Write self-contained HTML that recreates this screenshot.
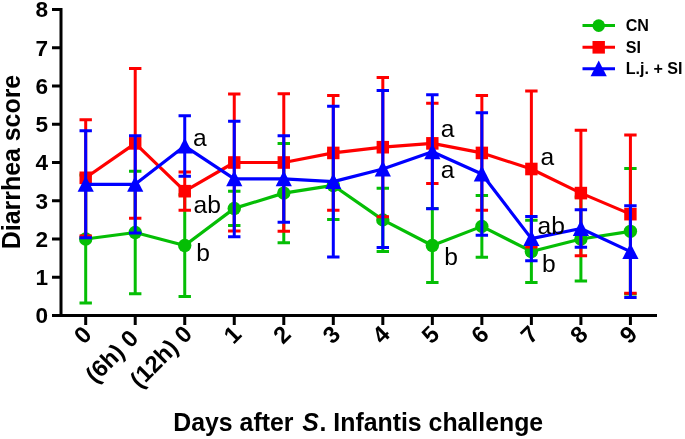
<!DOCTYPE html>
<html><head><meta charset="utf-8"><title>Diarrhea score</title>
<style>html,body{margin:0;padding:0;background:#fff}body{width:685px;height:439px;position:relative;overflow:hidden}</style></head>
<body>
<svg width="685" height="439" viewBox="0 0 685 439" style="display:block;position:absolute;left:0;top:0;will-change:transform">
<rect width="685" height="439" fill="#fff"/>
<path d="M85.70 175.12V302.88M79.50 175.12H91.90M79.50 302.88H91.90" stroke="#05be05" stroke-width="3.0" fill="none"/>
<path d="M135.22 171.30V293.70M129.02 171.30H141.42M129.02 293.70H141.42" stroke="#05be05" stroke-width="3.0" fill="none"/>
<path d="M184.74 194.63V296.38M178.54 194.63H190.94M178.54 296.38H190.94" stroke="#05be05" stroke-width="3.0" fill="none"/>
<path d="M234.26 191.19V225.61M228.06 191.19H240.46M228.06 225.61H240.46" stroke="#05be05" stroke-width="3.0" fill="none"/>
<path d="M283.78 143.38V242.82M277.58 143.38H289.98M277.58 242.82H289.98" stroke="#05be05" stroke-width="3.0" fill="none"/>
<path d="M333.30 151.41V219.49M327.10 151.41H339.50M327.10 219.49H339.50" stroke="#05be05" stroke-width="3.0" fill="none"/>
<path d="M382.82 188.13V251.62M376.62 188.13H389.02M376.62 251.62H389.02" stroke="#05be05" stroke-width="3.0" fill="none"/>
<path d="M432.34 208.40V282.61M426.14 208.40H438.54M426.14 282.61H438.54" stroke="#05be05" stroke-width="3.0" fill="none"/>
<path d="M481.86 195.39V257.36M475.66 195.39H488.06M475.66 257.36H488.06" stroke="#05be05" stroke-width="3.0" fill="none"/>
<path d="M531.38 220.26V282.61M525.18 220.26H537.58M525.18 282.61H537.58" stroke="#05be05" stroke-width="3.0" fill="none"/>
<path d="M580.90 196.93V281.07M574.70 196.93H587.10M574.70 281.07H587.10" stroke="#05be05" stroke-width="3.0" fill="none"/>
<path d="M630.42 168.62V294.08M624.22 168.62H636.62M624.22 294.08H636.62" stroke="#05be05" stroke-width="3.0" fill="none"/>
<polyline points="85.70,239.00 135.22,232.50 184.74,245.50 234.26,208.40 283.78,193.10 333.30,185.45 382.82,219.88 432.34,245.50 481.86,226.38 531.38,251.43 580.90,239.00 630.42,231.35" fill="none" stroke="#05be05" stroke-width="3.2" stroke-linejoin="round"/>
<circle cx="85.70" cy="239.00" r="6.7" fill="#05be05"/>
<circle cx="135.22" cy="232.50" r="6.7" fill="#05be05"/>
<circle cx="184.74" cy="245.50" r="6.7" fill="#05be05"/>
<circle cx="234.26" cy="208.40" r="6.7" fill="#05be05"/>
<circle cx="283.78" cy="193.10" r="6.7" fill="#05be05"/>
<circle cx="333.30" cy="185.45" r="6.7" fill="#05be05"/>
<circle cx="382.82" cy="219.88" r="6.7" fill="#05be05"/>
<circle cx="432.34" cy="245.50" r="6.7" fill="#05be05"/>
<circle cx="481.86" cy="226.38" r="6.7" fill="#05be05"/>
<circle cx="531.38" cy="251.43" r="6.7" fill="#05be05"/>
<circle cx="580.90" cy="239.00" r="6.7" fill="#05be05"/>
<circle cx="630.42" cy="231.35" r="6.7" fill="#05be05"/>
<path d="M85.70 119.66V235.94M79.50 119.66H91.90M79.50 235.94H91.90" stroke="#ff0000" stroke-width="3.0" fill="none"/>
<path d="M135.22 68.41V218.34M129.02 68.41H141.42M129.02 218.34H141.42" stroke="#ff0000" stroke-width="3.0" fill="none"/>
<path d="M184.74 172.06V210.31M178.54 172.06H190.94M178.54 210.31H190.94" stroke="#ff0000" stroke-width="3.0" fill="none"/>
<path d="M234.26 94.03V230.97M228.06 94.03H240.46M228.06 230.97H240.46" stroke="#ff0000" stroke-width="3.0" fill="none"/>
<path d="M283.78 93.65V231.35M277.58 93.65H289.98M277.58 231.35H289.98" stroke="#ff0000" stroke-width="3.0" fill="none"/>
<path d="M333.30 95.56V210.31M327.10 95.56H339.50M327.10 210.31H339.50" stroke="#ff0000" stroke-width="3.0" fill="none"/>
<path d="M382.82 77.58V216.81M376.62 77.58H389.02M376.62 216.81H389.02" stroke="#ff0000" stroke-width="3.0" fill="none"/>
<path d="M432.34 103.21V183.54M426.14 103.21H438.54M426.14 183.54H438.54" stroke="#ff0000" stroke-width="3.0" fill="none"/>
<path d="M481.86 95.56V210.31M475.66 95.56H488.06M475.66 210.31H488.06" stroke="#ff0000" stroke-width="3.0" fill="none"/>
<path d="M531.38 90.97V247.03M525.18 90.97H537.58M525.18 247.03H537.58" stroke="#ff0000" stroke-width="3.0" fill="none"/>
<path d="M580.90 130.37V255.83M574.70 130.37H587.10M574.70 255.83H587.10" stroke="#ff0000" stroke-width="3.0" fill="none"/>
<path d="M630.42 134.96V293.31M624.22 134.96H636.62M624.22 293.31H636.62" stroke="#ff0000" stroke-width="3.0" fill="none"/>
<polyline points="85.70,177.80 135.22,143.38 184.74,191.19 234.26,162.50 283.78,162.50 333.30,152.94 382.82,147.20 432.34,143.38 481.86,152.94 531.38,169.00 580.90,193.10 630.42,214.14" fill="none" stroke="#ff0000" stroke-width="3.2" stroke-linejoin="round"/>
<rect x="79.50" y="171.50" width="12.4" height="12.6" fill="#ff0000"/>
<rect x="129.02" y="137.07" width="12.4" height="12.6" fill="#ff0000"/>
<rect x="178.54" y="184.89" width="12.4" height="12.6" fill="#ff0000"/>
<rect x="228.06" y="156.20" width="12.4" height="12.6" fill="#ff0000"/>
<rect x="277.58" y="156.20" width="12.4" height="12.6" fill="#ff0000"/>
<rect x="327.10" y="146.64" width="12.4" height="12.6" fill="#ff0000"/>
<rect x="376.62" y="140.90" width="12.4" height="12.6" fill="#ff0000"/>
<rect x="426.14" y="137.07" width="12.4" height="12.6" fill="#ff0000"/>
<rect x="475.66" y="146.64" width="12.4" height="12.6" fill="#ff0000"/>
<rect x="525.18" y="162.70" width="12.4" height="12.6" fill="#ff0000"/>
<rect x="574.70" y="186.80" width="12.4" height="12.6" fill="#ff0000"/>
<rect x="624.22" y="207.84" width="12.4" height="12.6" fill="#ff0000"/>
<path d="M85.70 130.75V237.85M79.50 130.75H91.90M79.50 237.85H91.90" stroke="#0000ff" stroke-width="3.0" fill="none"/>
<path d="M135.22 135.72V232.88M129.02 135.72H141.42M129.02 232.88H141.42" stroke="#0000ff" stroke-width="3.0" fill="none"/>
<path d="M184.74 115.84V176.27M178.54 115.84H190.94M178.54 176.27H190.94" stroke="#0000ff" stroke-width="3.0" fill="none"/>
<path d="M234.26 121.19V236.71M228.06 121.19H240.46M228.06 236.71H240.46" stroke="#0000ff" stroke-width="3.0" fill="none"/>
<path d="M283.78 135.73V222.17M277.58 135.73H289.98M277.58 222.17H289.98" stroke="#0000ff" stroke-width="3.0" fill="none"/>
<path d="M333.30 106.27V256.98M327.10 106.27H339.50M327.10 256.98H339.50" stroke="#0000ff" stroke-width="3.0" fill="none"/>
<path d="M382.82 90.59V247.41M376.62 90.59H389.02M376.62 247.41H389.02" stroke="#0000ff" stroke-width="3.0" fill="none"/>
<path d="M432.34 94.80V208.78M426.14 94.80H438.54M426.14 208.78H438.54" stroke="#0000ff" stroke-width="3.0" fill="none"/>
<path d="M481.86 112.77V235.18M475.66 112.77H488.06M475.66 235.18H488.06" stroke="#0000ff" stroke-width="3.0" fill="none"/>
<path d="M531.38 216.43V260.80M525.18 216.43H537.58M525.18 260.80H537.58" stroke="#0000ff" stroke-width="3.0" fill="none"/>
<path d="M580.90 209.74V247.22M574.70 209.74H587.10M574.70 247.22H587.10" stroke="#0000ff" stroke-width="3.0" fill="none"/>
<path d="M630.42 205.72V297.52M624.22 205.72H636.62M624.22 297.52H636.62" stroke="#0000ff" stroke-width="3.0" fill="none"/>
<polyline points="85.70,184.30 135.22,184.30 184.74,146.05 234.26,178.95 283.78,178.95 333.30,181.62 382.82,169.00 432.34,151.79 481.86,173.97 531.38,238.62 580.90,228.48 630.42,251.62" fill="none" stroke="#0000ff" stroke-width="3.2" stroke-linejoin="round"/>
<polygon points="85.70,175.90 77.60,191.70 93.80,191.70" fill="#0000ff"/>
<polygon points="135.22,175.90 127.12,191.70 143.32,191.70" fill="#0000ff"/>
<polygon points="184.74,137.65 176.64,153.45 192.84,153.45" fill="#0000ff"/>
<polygon points="234.26,170.55 226.16,186.35 242.36,186.35" fill="#0000ff"/>
<polygon points="283.78,170.55 275.68,186.35 291.88,186.35" fill="#0000ff"/>
<polygon points="333.30,173.22 325.20,189.03 341.40,189.03" fill="#0000ff"/>
<polygon points="382.82,160.60 374.72,176.40 390.92,176.40" fill="#0000ff"/>
<polygon points="432.34,143.39 424.24,159.19 440.44,159.19" fill="#0000ff"/>
<polygon points="481.86,165.57 473.76,181.38 489.96,181.38" fill="#0000ff"/>
<polygon points="531.38,230.22 523.28,246.02 539.48,246.02" fill="#0000ff"/>
<polygon points="580.90,220.08 572.80,235.88 589.00,235.88" fill="#0000ff"/>
<polygon points="630.42,243.22 622.32,259.02 638.52,259.02" fill="#0000ff"/>
<path d="M61 8V317M59.5 315.5H657" stroke="#000" stroke-width="3" fill="none"/>
<path d="M52 315.50H61M52 277.25H61M52 239.00H61M52 200.75H61M52 162.50H61M52 124.25H61M52 86.00H61M52 47.75H61M52 9.50H61M85.70 315.5V325M135.22 315.5V325M184.74 315.5V325M234.26 315.5V325M283.78 315.5V325M333.30 315.5V325M382.82 315.5V325M432.34 315.5V325M481.86 315.5V325M531.38 315.5V325M580.90 315.5V325M630.42 315.5V325" stroke="#000" stroke-width="3" fill="none"/>
<text x="48" y="323.40" text-anchor="end" font-family="Liberation Sans, Arial, sans-serif" font-weight="bold" font-size="22.6">0</text>
<text x="48" y="285.15" text-anchor="end" font-family="Liberation Sans, Arial, sans-serif" font-weight="bold" font-size="22.6">1</text>
<text x="48" y="246.90" text-anchor="end" font-family="Liberation Sans, Arial, sans-serif" font-weight="bold" font-size="22.6">2</text>
<text x="48" y="208.65" text-anchor="end" font-family="Liberation Sans, Arial, sans-serif" font-weight="bold" font-size="22.6">3</text>
<text x="48" y="170.40" text-anchor="end" font-family="Liberation Sans, Arial, sans-serif" font-weight="bold" font-size="22.6">4</text>
<text x="48" y="132.15" text-anchor="end" font-family="Liberation Sans, Arial, sans-serif" font-weight="bold" font-size="22.6">5</text>
<text x="48" y="93.90" text-anchor="end" font-family="Liberation Sans, Arial, sans-serif" font-weight="bold" font-size="22.6">6</text>
<text x="48" y="55.65" text-anchor="end" font-family="Liberation Sans, Arial, sans-serif" font-weight="bold" font-size="22.6">7</text>
<text x="48" y="17.40" text-anchor="end" font-family="Liberation Sans, Arial, sans-serif" font-weight="bold" font-size="22.6">8</text>
<text transform="translate(93.00 336.00) rotate(-45)" text-anchor="end" font-family="Liberation Sans, Arial, sans-serif" font-weight="bold" font-size="23.6">0</text>
<text transform="translate(139.72 339.80) rotate(-45)" text-anchor="end" font-family="Liberation Sans, Arial, sans-serif" font-weight="bold" font-size="23.6">(6h) 0</text>
<text transform="translate(193.44 335.40) rotate(-45)" text-anchor="end" font-family="Liberation Sans, Arial, sans-serif" font-weight="bold" font-size="23.6">(12h) 0</text>
<text transform="translate(242.66 335.60) rotate(-45)" text-anchor="end" font-family="Liberation Sans, Arial, sans-serif" font-weight="bold" font-size="23.6">1</text>
<text transform="translate(292.18 335.60) rotate(-45)" text-anchor="end" font-family="Liberation Sans, Arial, sans-serif" font-weight="bold" font-size="23.6">2</text>
<text transform="translate(341.70 335.60) rotate(-45)" text-anchor="end" font-family="Liberation Sans, Arial, sans-serif" font-weight="bold" font-size="23.6">3</text>
<text transform="translate(391.22 335.60) rotate(-45)" text-anchor="end" font-family="Liberation Sans, Arial, sans-serif" font-weight="bold" font-size="23.6">4</text>
<text transform="translate(440.74 335.60) rotate(-45)" text-anchor="end" font-family="Liberation Sans, Arial, sans-serif" font-weight="bold" font-size="23.6">5</text>
<text transform="translate(490.26 335.60) rotate(-45)" text-anchor="end" font-family="Liberation Sans, Arial, sans-serif" font-weight="bold" font-size="23.6">6</text>
<text transform="translate(539.78 335.60) rotate(-45)" text-anchor="end" font-family="Liberation Sans, Arial, sans-serif" font-weight="bold" font-size="23.6">7</text>
<text transform="translate(589.30 335.60) rotate(-45)" text-anchor="end" font-family="Liberation Sans, Arial, sans-serif" font-weight="bold" font-size="23.6">8</text>
<text transform="translate(638.82 335.60) rotate(-45)" text-anchor="end" font-family="Liberation Sans, Arial, sans-serif" font-weight="bold" font-size="23.6">9</text>
<text x="173.3" y="431.2" font-family="Liberation Sans, Arial, sans-serif" font-weight="bold" font-size="24.85">Days after <tspan font-style="italic" dx="1.8">S</tspan><tspan dx="0.8">. Infantis challenge</tspan></text>
<text transform="translate(20.1 162) rotate(-90)" text-anchor="middle" font-family="Liberation Sans, Arial, sans-serif" font-weight="bold" font-size="24.9">Diarrhea score</text>
<text x="193" y="146.0" font-family="Liberation Sans, Arial, sans-serif" font-size="24.6">a</text>
<text x="193.5" y="213.4" font-family="Liberation Sans, Arial, sans-serif" font-size="24.6">ab</text>
<text x="196.3" y="260.8" font-family="Liberation Sans, Arial, sans-serif" font-size="24.6">b</text>
<text x="440.8" y="137.3" font-family="Liberation Sans, Arial, sans-serif" font-size="24.6">a</text>
<text x="440.8" y="177.5" font-family="Liberation Sans, Arial, sans-serif" font-size="24.6">a</text>
<text x="444.2" y="264.7" font-family="Liberation Sans, Arial, sans-serif" font-size="24.6">b</text>
<text x="540.4" y="165.3" font-family="Liberation Sans, Arial, sans-serif" font-size="24.6">a</text>
<text x="537.6" y="233.5" font-family="Liberation Sans, Arial, sans-serif" font-size="24.6">ab</text>
<text x="542.0" y="271.7" font-family="Liberation Sans, Arial, sans-serif" font-size="24.6">b</text>
<path d="M582.5 25.6H615" stroke="#05be05" stroke-width="3"/>
<circle cx="598.70" cy="25.60" r="6.3" fill="#05be05"/>
<text x="625.7" y="31.20" font-family="Liberation Sans, Arial, sans-serif" font-weight="bold" font-size="16.1">CN</text>
<path d="M582.5 47.3H615" stroke="#ff0000" stroke-width="3"/>
<rect x="592.50" y="41.00" width="12.4" height="12.6" fill="#ff0000"/>
<text x="625.7" y="52.90" font-family="Liberation Sans, Arial, sans-serif" font-weight="bold" font-size="16.1">SI</text>
<path d="M582.5 68.8H615" stroke="#0000ff" stroke-width="3"/>
<polygon points="598.70,60.40 590.60,76.20 606.80,76.20" fill="#0000ff"/>
<text x="625.7" y="74.40" font-family="Liberation Sans, Arial, sans-serif" font-weight="bold" font-size="16.1">L.j. + SI</text>
</svg>
</body></html>
